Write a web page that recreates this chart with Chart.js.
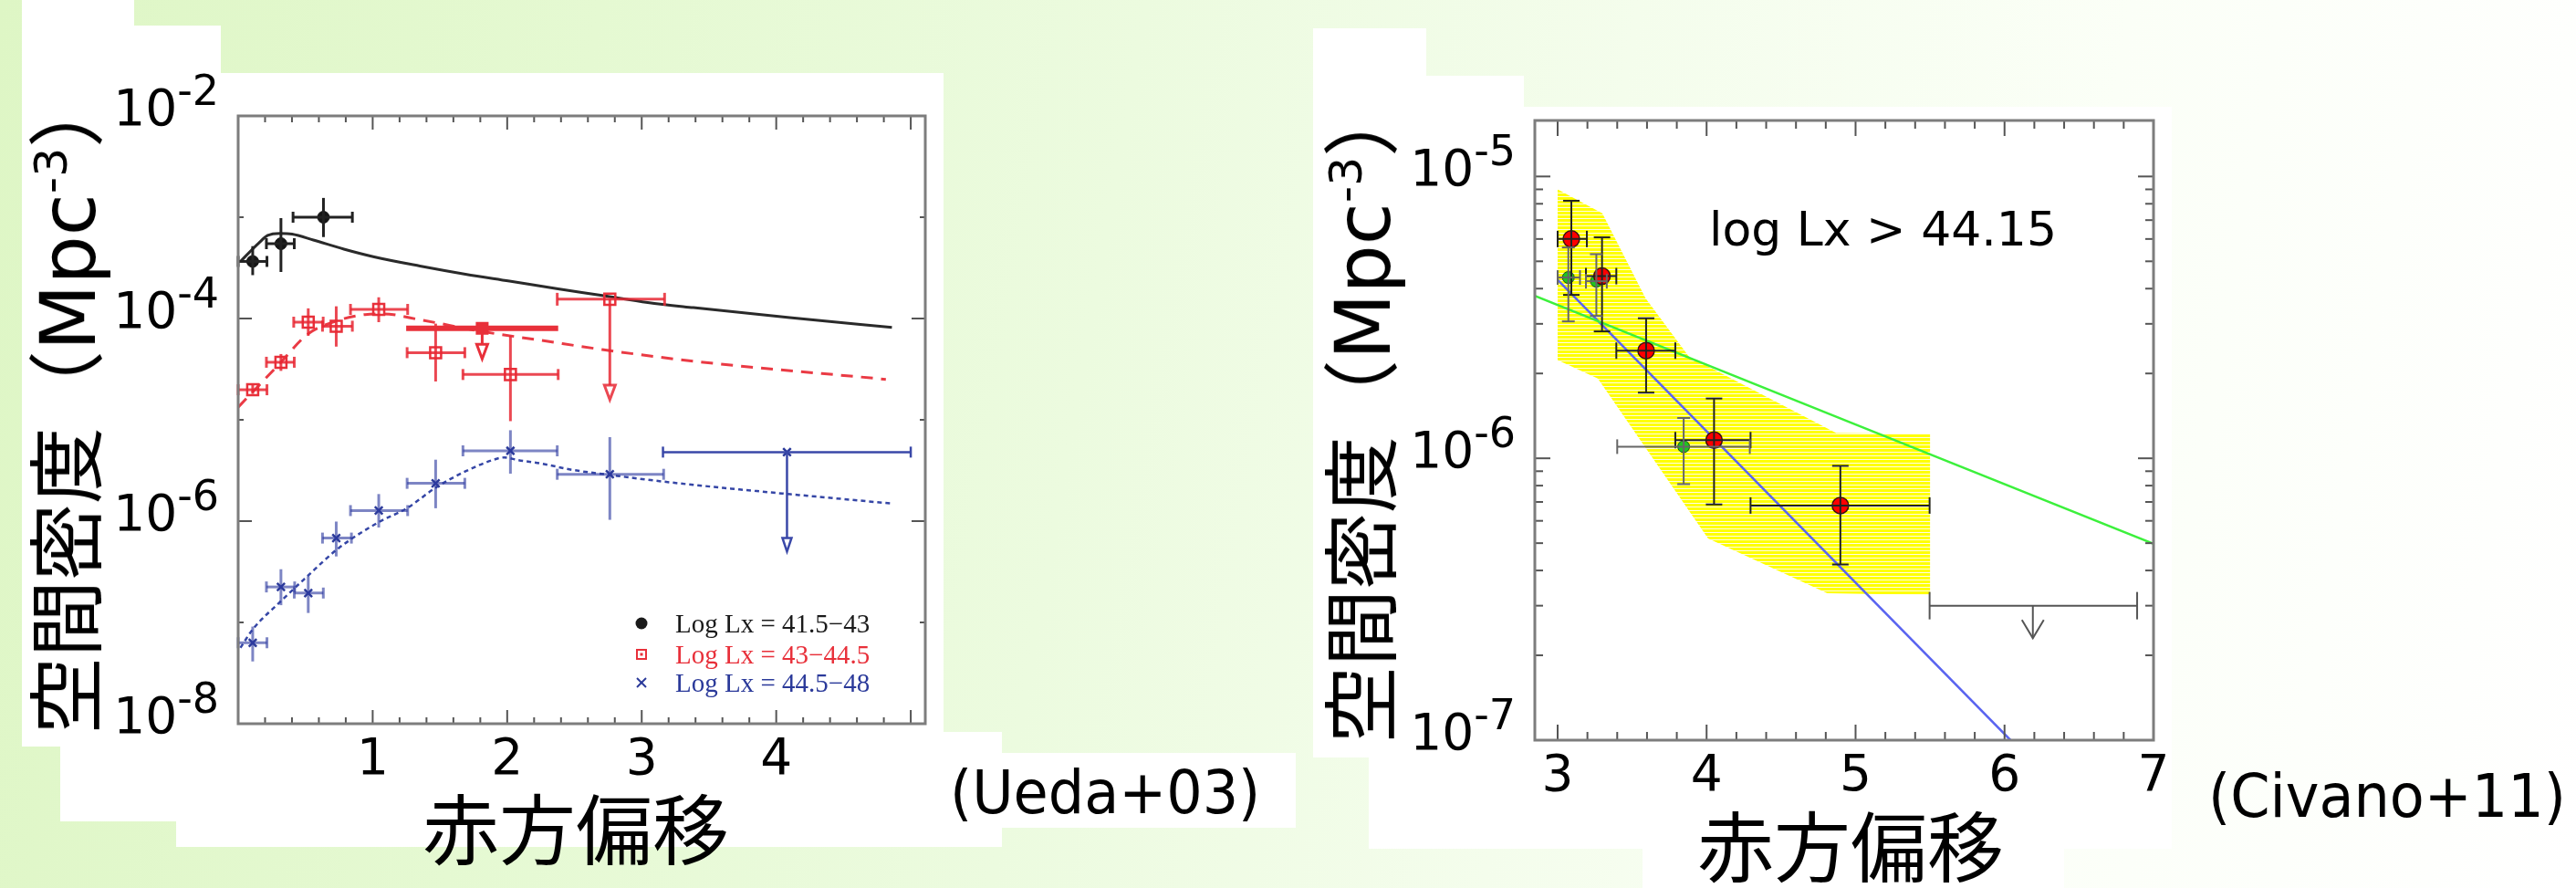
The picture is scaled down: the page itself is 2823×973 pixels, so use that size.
<!DOCTYPE html>
<html><head><meta charset="utf-8">
<script src="https://cdn.jsdelivr.net/npm/chart.js@4.4.0/dist/chart.umd.min.js"></script>
<style>
html,body{margin:0;padding:0;}
body{width:2823px;height:973px;position:relative;overflow:hidden;
 background:linear-gradient(100deg,#def6c5 0%,#e5f9d2 22%,#ecfbdf 42%,#f4fdec 60%,#fbfff7 78%,#ffffff 100%);}
.w{position:absolute;background:#fff;}
.t{position:absolute;white-space:nowrap;line-height:1;color:#000;}
.yt{font-family:"DejaVu Sans","Noto Sans CJK JP";font-size:84px;transform:translate(-50%,-50%) rotate(-90deg);}
.yt sup{font-size:0.6em;vertical-align:baseline;position:relative;top:-0.62em;}
.xt{font-family:"Noto Sans CJK JP";font-size:84px;}
.cite{font-family:"DejaVu Sans";font-size:66px;transform:scaleX(0.94);transform-origin:left top;}
canvas{position:absolute;top:0;}
</style></head><body>
<!-- white slide panels -->
<div class="w" style="left:24px;top:0;width:123px;height:818px"></div>
<div class="w" style="left:24px;top:28px;width:218px;height:790px"></div>
<div class="w" style="left:24px;top:80px;width:1010px;height:738px"></div>
<div class="w" style="left:66px;top:802px;width:1032px;height:98px"></div>
<div class="w" style="left:193px;top:880px;width:905px;height:48px"></div>
<div class="w" style="left:1098px;top:825px;width:322px;height:82px"></div>
<div class="w" style="left:1439px;top:31px;width:124px;height:794px"></div>
<div class="w" style="left:1439px;top:83px;width:231px;height:742px"></div>
<div class="w" style="left:1439px;top:117px;width:941px;height:713px"></div>
<div class="w" style="left:1500px;top:825px;width:880px;height:105px"></div>
<div class="w" style="left:1800px;top:930px;width:462px;height:43px"></div>

<canvas id="ueda" width="1420" height="973" style="left:0;width:1420px;height:973px"></canvas>
<canvas id="civano" width="1403" height="973" style="left:1420px;width:1403px;height:973px"></canvas>

<div class="t yt" style="left:75px;top:441px">空間密度（Mpc<sup>-3</sup>）</div>
<div class="t yt" style="left:1494px;top:451px">空間密度（Mpc<sup>-3</sup>）</div>
<div class="t xt" style="left:463px;top:863px">赤方偏移</div>
<div class="t xt" style="left:1860px;top:882px">赤方偏移</div>
<div class="t cite" style="left:1041px;top:836px">(Ueda+03)</div>
<div class="t cite" style="left:2420px;top:840px">(Civano+11)</div>
<div class="t" style="left:1873px;top:225px;font-family:'DejaVu Sans';font-size:52px">log Lx &gt; 44.15</div>

<script>
// ================= Ueda+03 (left) =================
const uedaXTickValues = [1, 2, 3, 4];
const uedaYTickValues = [1e-2, 1e-4, 1e-6, 1e-8];
const uedaYTickExps = ['-2', '-4', '-6', '-8'];
const uedaSeriesNames = ['Log Lx = 41.5\u221243', 'Log Lx = 43\u221244.5', 'Log Lx = 44.5\u221248'];

// [z, zLow, zHigh, density, densityLow, densityHigh]
const lowLxPoints = [
  [0.108, 0.0, 0.214, 3.66e-4, 2.68e-4, 5.18e-4],
  [0.318, 0.21, 0.417, 5.48e-4, 2.88e-4, 9.8e-4],
  [0.634, 0.408, 0.849, 1.0e-3, 6.37e-4, 1.55e-3]
];
const midLxPoints = [
  [0.108, 0.0, 0.214, 1.98e-5, 1.8e-5, 2.2e-5],
  [0.318, 0.21, 0.417, 3.7e-5, 3.04e-5, 4.46e-5],
  [0.521, 0.413, 0.632, 9.2e-5, 6.75e-5, 1.26e-4],
  [0.729, 0.627, 0.849, 8.4e-5, 5.28e-5, 1.32e-4],
  [1.045, 0.835, 1.26, 1.23e-4, 9.2e-5, 1.62e-4],
  [1.468, 1.256, 1.685, 4.6e-5, 2.39e-5, 8.9e-5],
  [2.024, 1.671, 2.379, 2.8e-5, 9.7e-6, 6.75e-5]
];
const highLxPoints = [
  [0.108, 0.0, 0.214, 6.3e-8, 4.12e-8, 9.1e-8],
  [0.318, 0.21, 0.42, 2.24e-7, 1.48e-7, 3.35e-7],
  [0.521, 0.417, 0.633, 1.95e-7, 1.24e-7, 2.86e-7],
  [0.729, 0.627, 0.842, 6.8e-7, 4.48e-7, 9.9e-7],
  [1.045, 0.835, 1.26, 1.27e-6, 8.65e-7, 1.85e-6],
  [1.468, 1.256, 1.685, 2.36e-6, 1.34e-6, 4.04e-6],
  [2.024, 1.671, 2.372, 4.94e-6, 2.94e-6, 7.89e-6],
  [2.763, 2.372, 3.163, 2.9e-6, 1.03e-6, 6.75e-6]
];
// upper limits: [z, zLow, zHigh, density, arrowEnd]
const midLxLimitFilled = [[1.814, 1.249, 2.379, 8.0e-5, 4.0e-5]];
const midLxLimitOpen = [[2.763, 2.372, 3.17, 1.55e-4, 1.58e-5]];
const highLxLimit = [[4.08, 3.158, 5.0, 4.8e-6, 5.0e-7]];

// model curves
const lowLxModelZ = [0.017, 0.153, 0.22, 0.311, 0.401, 0.559, 0.786, 1.011, 1.351, 1.69, 2.017, 2.367, 2.706, 3.045, 3.384, 4.1, 4.86];
const lowLxModel  = [3.66e-4, 5.55e-4, 6.61e-4, 6.93e-4, 6.82e-4, 5.96e-4, 4.84e-4, 4.06e-4, 3.30e-4, 2.74e-4, 2.34e-4, 1.97e-4, 1.69e-4, 1.44e-4, 1.28e-4, 1.02e-4, 8.18e-5];
const midLxModelZ = [0.0, 0.311, 0.515, 0.74, 0.944, 1.079, 1.351, 1.803, 2.254, 2.706, 3.384, 4.815];
const midLxModel  = [1.33e-5, 3.62e-5, 6.97e-5, 9.53e-5, 1.094e-4, 1.11e-4, 9.73e-5, 7.48e-5, 6.08e-5, 4.94e-5, 3.79e-5, 2.51e-5];
const highLxModelZ = [0.017, 0.108, 0.311, 0.515, 0.74, 1.034, 1.26, 1.464, 1.69, 1.915, 1.98, 2.08, 2.254, 2.481, 2.763, 3.045, 3.384, 4.86];
const highLxModel  = [5.62e-8, 8.53e-8, 1.59e-7, 2.86e-7, 5.32e-7, 9.59e-7, 1.355e-6, 2.12e-6, 3.10e-6, 4.10e-6, 4.25e-6, 4.0e-6, 3.70e-6, 3.21e-6, 2.86e-6, 2.56e-6, 2.28e-6, 1.49e-6];

// ================= Civano+11 (right) =================
const civanoXTickValues = [3, 4, 5, 6, 7];
const civanoYTickValues = [1e-5, 1e-6, 1e-7];
const civanoYTickExps = ['-5', '-6', '-7'];
const civanoRedPoints = [
  [3.092, 3.0, 3.196, 6.0e-6, 3.8e-6, 8.2e-6],
  [3.298, 3.19, 3.394, 4.43e-6, 2.82e-6, 6.08e-6],
  [3.594, 3.394, 3.79, 2.41e-6, 1.71e-6, 3.14e-6],
  [4.05, 3.79, 4.295, 1.16e-6, 6.86e-7, 1.63e-6],
  [4.898, 4.295, 5.497, 6.8e-7, 4.2e-7, 9.4e-7]
];
const civanoGreenPoints = [
  [3.072, 3.0, 3.15, 4.38e-6, 3.06e-6, 5.6e-6],
  [3.26, 3.19, 3.33, 4.25e-6, 3.2e-6, 5.3e-6],
  [3.846, 3.4, 4.29, 1.1e-6, 8.1e-7, 1.39e-6]
];
const civanoLimit = [[6.19, 5.497, 6.89, 3.0e-7, 2.3e-7]];
const civanoBandZ = [3.0, 3.3, 3.59, 3.88, 4.87, 5.5, 5.5, 4.81, 4.01, 3.27, 3.0];
const civanoBand  = [9.0e-6, 7.4e-6, 3.7e-6, 2.3e-6, 1.23e-6, 1.22e-6, 3.27e-7, 3.32e-7, 5.2e-7, 1.92e-6, 2.23e-6];
const civanoGreenModelZ = [2.847, 7.0];
const civanoGreenModel  = [3.77e-6, 4.97e-7];
const civanoBlueModelZ = [3.0, 6.04];
const civanoBlueModel  = [4.3e-6, 1.0e-7];

// ================= helpers =================
const asPts = rows => rows.map(r => ({x: r[0], y: r[3]}));
const asXY = (xs, ys) => xs.map((v, i) => ({x: v, y: ys[i]}));
function seg(ctx, x1, y1, x2, y2) { ctx.beginPath(); ctx.moveTo(x1, y1); ctx.lineTo(x2, y2); ctx.stroke(); }

const errorBarPlugin = {
  id: 'errBars',
  afterDatasetsDraw(chart) {
    const {ctx, scales: {x, y}} = chart;
    chart.data.datasets.forEach(ds => {
      if (!ds.bars) return;
      const s = ds.barStyle;
      ctx.save();
      ctx.strokeStyle = s.color; ctx.lineCap = 'butt';
      ds.bars.forEach(r => {
        const px = x.getPixelForValue(r[0]);
        const py = y.getPixelForValue(r[3]);
        const x1 = x.getPixelForValue(r[1]), x2 = x.getPixelForValue(r[2]);
        ctx.lineWidth = s.hWidth || s.width;
        seg(ctx, x1, py, x2, py);
        ctx.lineWidth = s.width;
        if (s.capH) { seg(ctx, x1, py - s.capH, x1, py + s.capH); seg(ctx, x2, py - s.capH, x2, py + s.capH); }
        if (ds.limit) {
          const pe = y.getPixelForValue(r[4]);
          const h = s.head;
          if (h.type === 'tri') {
            seg(ctx, px, py, px, pe - h.len);
            ctx.beginPath(); ctx.moveTo(px - h.hw, pe - h.len); ctx.lineTo(px + h.hw, pe - h.len); ctx.lineTo(px, pe); ctx.closePath();
            ctx.fillStyle = '#fff'; ctx.fill(); ctx.stroke();
          } else {
            seg(ctx, px, py, px, pe);
            ctx.beginPath(); ctx.moveTo(px - h.hw, pe - h.len); ctx.lineTo(px, pe); ctx.lineTo(px + h.hw, pe - h.len); ctx.stroke();
          }
        } else {
          const y1 = y.getPixelForValue(r[4]), y2 = y.getPixelForValue(r[5]);
          seg(ctx, px, y1, px, y2);
          if (s.capV) { seg(ctx, px - s.capV, y1, px + s.capV, y1); seg(ctx, px - s.capV, y2, px + s.capV, y2); }
        }
      });
      ctx.restore();
    });
  }
};

function axisPlugin(ax) {
  return {
    id: 'axisFrame',
    afterDraw(chart) {
      const {ctx, chartArea: a, scales: {x, y}} = chart;
      ctx.save();
      ctx.strokeStyle = '#555'; ctx.lineWidth = 2;
      ax.xTicks.forEach(([v, len]) => { const p = x.getPixelForValue(v); seg(ctx, p, a.bottom, p, a.bottom - len); seg(ctx, p, a.top, p, a.top + len); });
      ax.yTicks.forEach(([v, len]) => { const p = y.getPixelForValue(v); seg(ctx, a.left, p, a.left + len, p); seg(ctx, a.right, p, a.right - len, p); });
      ctx.strokeStyle = '#7d7d7d'; ctx.lineWidth = 3;
      ctx.strokeRect(a.left, a.top, a.right - a.left, a.bottom - a.top);
      ctx.fillStyle = '#000'; ctx.textBaseline = 'alphabetic';
      ctx.font = '55px "DejaVu Sans"'; ctx.textAlign = 'center';
      ax.xLabels.forEach(v => ctx.fillText(String(v), x.getPixelForValue(v), a.bottom + 55));
      ctx.textAlign = 'left';
      ax.yLabels.forEach((v, i) => {
        const base = y.getPixelForValue(v) + 10;
        ctx.font = '55px "DejaVu Sans"'; const w10 = ctx.measureText('10').width;
        ctx.font = '46px "DejaVu Sans"'; const we = ctx.measureText(ax.yExps[i]).width;
        const x0 = a.left - 21 - we - w10;
        ctx.font = '55px "DejaVu Sans"'; ctx.fillText('10', x0, base);
        ctx.font = '46px "DejaVu Sans"'; ctx.fillText(ax.yExps[i], x0 + w10, base - 22);
      });
      ctx.restore();
    }
  };
}

const uedaColors = ['#1a1a1a', '#e8303a', '#2b3a9a'];
const uedaLegendPlugin = {
  id: 'uedaLegend',
  afterDraw(chart) {
    const {ctx, chartArea: a} = chart;
    const mx = a.right - 311, tx = a.right - 274;
    const rows = [a.bottom - 100, a.bottom - 66, a.bottom - 35];
    ctx.save();
    ctx.font = '29px "Liberation Serif"'; ctx.textAlign = 'left'; ctx.textBaseline = 'alphabetic';
    uedaSeriesNames.forEach((name, i) => {
      const c = uedaColors[i], yb = rows[i], ym = yb - 10;
      ctx.fillStyle = c; ctx.strokeStyle = c; ctx.lineWidth = 2;
      if (i === 0) { ctx.beginPath(); ctx.arc(mx, ym, 6.5, 0, Math.PI * 2); ctx.fill(); }
      else if (i === 1) { ctx.strokeRect(mx - 5, ym - 5, 10, 10); ctx.fillRect(mx - 1.5, ym - 1.5, 3, 3); }
      else { seg(ctx, mx - 5, ym - 5, mx + 5, ym + 5); seg(ctx, mx - 5, ym + 5, mx + 5, ym - 5); }
      ctx.fillText(name, tx, yb);
    });
    ctx.restore();
  }
};

function makeChart(id, cfg) {
  return new Chart(document.getElementById(id), {
    type: 'scatter',
    data: {datasets: cfg.datasets},
    options: {
      responsive: false, animation: false, events: [],
      layout: {padding: cfg.padding},
      plugins: {legend: {display: false}, tooltip: {enabled: false}},
      scales: {
        x: {type: 'linear', min: cfg.xMin, max: cfg.xMax, display: false},
        y: {type: 'logarithmic', min: cfg.yMin, max: cfg.yMax, display: false}
      }
    },
    plugins: [errorBarPlugin, axisPlugin(cfg.axis)].concat(cfg.extra || [])
  });
}
function curve(xs, ys, color, width, dash) {
  return {data: asXY(xs, ys), showLine: true, pointRadius: 0, borderColor: color, borderWidth: width,
          borderDash: dash, fill: false, cubicInterpolationMode: 'monotone', order: 5};
}

// ---------- ticks ----------
function minorTicks(from, to, step, skip) {
  const out = [];
  for (let v = from; v <= to + 1e-9; v += step) {
    const r = Math.round(v * 1000) / 1000;
    if (!skip.some(s => Math.abs(s - r) < 1e-6)) out.push(r);
  }
  return out;
}
const uedaMajorX = [1, 2, 3, 4, 5];
const uedaAxis = {
  xTicks: uedaMajorX.map(v => [v, 15]).concat(minorTicks(0.2, 5.0, 0.2, uedaMajorX).map(v => [v, 7])),
  yTicks: [[1e-3, 6], [1e-4, 15], [1e-5, 6], [1e-6, 15], [1e-7, 6]],
  xLabels: uedaXTickValues, yLabels: uedaYTickValues, yExps: uedaYTickExps
};
const civMajorX = [3, 4, 5, 6, 7];
const civMinorY = [];
[1e-7, 1e-6].forEach(d => { for (let k = 2; k <= 9; k++) civMinorY.push([k * d, 9]); });
const civanoAxis = {
  xTicks: civMajorX.map(v => [v, 17]).concat(minorTicks(3.2, 6.8, 0.2, civMajorX).map(v => [v, 9])),
  yTicks: [[1e-6, 17], [1e-5, 17]].concat(civMinorY),
  xLabels: civanoXTickValues, yLabels: civanoYTickValues, yExps: civanoYTickExps
};

// ---------- Ueda chart ----------
const redBar = 'rgba(232,40,52,0.85)';
const blueBar = 'rgba(45,58,160,0.62)';
makeChart('ueda', {
  padding: {left: 261, top: 127, right: 406, bottom: 180},
  xMin: 0, xMax: 5.108, yMin: 1e-8, yMax: 1e-2,
  axis: uedaAxis, extra: [uedaLegendPlugin],
  datasets: [
    {data: asPts(lowLxPoints), pointStyle: 'circle', pointRadius: 6.5, backgroundColor: '#151515', borderColor: '#151515', borderWidth: 1, order: 1,
     bars: lowLxPoints, barStyle: {color: '#222', width: 3, capH: 6}},
    {data: asPts(midLxPoints), pointStyle: 'rect', pointRadius: 8.5, backgroundColor: 'rgba(0,0,0,0)', borderColor: '#e8303a', borderWidth: 2.5, order: 1,
     bars: midLxPoints, barStyle: {color: redBar, width: 3, capH: 6}},
    {data: asPts(midLxLimitFilled), pointStyle: 'rect', pointRadius: 8.5, backgroundColor: '#e8303a', borderColor: '#e8303a', borderWidth: 2, order: 1,
     bars: midLxLimitFilled, limit: true, barStyle: {color: '#e8303a', width: 3, hWidth: 6, capH: 0, head: {type: 'tri', len: 16, hw: 6}}},
    {data: asPts(midLxLimitOpen), pointStyle: 'rect', pointRadius: 8.5, backgroundColor: 'rgba(0,0,0,0)', borderColor: '#e8303a', borderWidth: 2.5, order: 1,
     bars: midLxLimitOpen, limit: true, barStyle: {color: redBar, width: 3, capH: 7, head: {type: 'tri', len: 16, hw: 6}}},
    {data: asPts(highLxPoints), pointStyle: 'crossRot', pointRadius: 6, borderColor: '#2b3a9a', borderWidth: 2.5, order: 1,
     bars: highLxPoints, barStyle: {color: blueBar, width: 3, capH: 6}},
    {data: asPts(highLxLimit), pointStyle: 'crossRot', pointRadius: 6, borderColor: '#2b3a9a', borderWidth: 2.5, order: 1,
     bars: highLxLimit, limit: true, barStyle: {color: '#3a48a8', width: 2.5, capH: 6, head: {type: 'tri', len: 15, hw: 5}}},
    curve(lowLxModelZ, lowLxModel, '#2a2a2a', 3, []),
    curve(midLxModelZ, midLxModel, '#ea3a44', 3, [13, 9]),
    curve(highLxModelZ, highLxModel, '#3546a6', 2.5, [5, 4])
  ]
});

// ---------- Civano chart ----------
function stripes() {
  const c = document.createElement('canvas'); c.width = 4; c.height = 4;
  const g = c.getContext('2d');
  g.fillStyle = '#ffff00'; g.fillRect(0, 0, 4, 4);
  g.fillStyle = '#fffde6'; g.fillRect(0, 3, 4, 1);
  return g.createPattern(c, 'repeat');
}
makeChart('civano', {
  padding: {left: 262, top: 132, right: 463, bottom: 162},
  xMin: 2.847, xMax: 7.0, yMin: 1e-7, yMax: 1.58e-5,
  axis: civanoAxis,
  datasets: [
    {data: asPts(civanoRedPoints), pointStyle: 'circle', pointRadius: 9, backgroundColor: '#ff0000', borderColor: '#3a1010', borderWidth: 1.5, order: 1,
     bars: civanoRedPoints, barStyle: {color: '#222', width: 2, capH: 9, capV: 9}},
    {data: asPts(civanoGreenPoints), pointStyle: 'circle', pointRadius: 6.5, backgroundColor: '#1fc41f', borderColor: '#1d4a1d', borderWidth: 1, order: 2,
     bars: civanoGreenPoints, barStyle: {color: '#666', width: 2, capH: 8, capV: 7}},
    {data: asPts(civanoLimit), pointRadius: 0, order: 1,
     bars: civanoLimit, limit: true, barStyle: {color: '#555', width: 2, capH: 15, head: {type: 'chev', len: 20, hw: 12}}},
    curve(civanoGreenModelZ, civanoGreenModel, '#3cf03c', 2.5, []),
    curve(civanoBlueModelZ, civanoBlueModel, '#5a64f0', 2.5, []),
    {data: asXY(civanoBandZ, civanoBand), showLine: true, pointRadius: 0, borderWidth: 0, borderColor: 'rgba(0,0,0,0)',
     backgroundColor: stripes(), fill: 'shape', order: 10}
  ]
});
</script>
</body></html>
